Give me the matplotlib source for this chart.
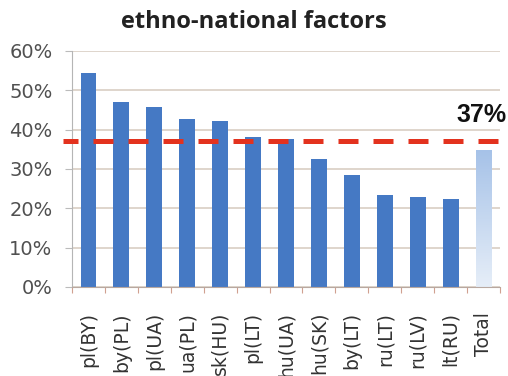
import numpy as np
import matplotlib
matplotlib.use("Agg")
import matplotlib.pyplot as plt
from matplotlib.colors import LinearSegmentedColormap

categories = ["pl(BY)", "by(PL)", "pl(UA)", "ua(PL)", "sk(HU)", "pl(LT)", "hu(UA)",
              "hu(SK)", "by(LT)", "ru(LT)", "ru(LV)", "lt(RU)", "Total"]
values = [54.5, 47.1, 45.8, 42.7, 42.1, 38.1, 37.6, 32.5, 28.5, 23.3, 23.0, 22.3, 34.7]
reference_value = 37
reference_label = "37%"
yticks = [0, 10, 20, 30, 40, 50, 60]
ytick_labels = ["0%", "10%", "20%", "30%", "40%", "50%", "60%"]
title = "ethno-national factors"

fig = plt.figure(figsize=(5.08, 3.76), dpi=100)
ax = fig.add_axes([72 / 508, 1 - 287 / 376, 428 / 508, 236 / 376])

x = np.arange(len(categories))
bar_w = 0.48
blue = "#4579c4"

# country bars
ax.bar(x[:-1], values[:-1], width=bar_w, color=blue, zorder=2)

# total bar with a vertical fade from light blue to near white
tx, tv = x[-1], values[-1]
cmap = LinearSegmentedColormap.from_list("fade", ["#e6eef8", "#a6c2e8"])
grad = np.linspace(0, 1, 256).reshape(-1, 1)
ax.imshow(grad, cmap=cmap, origin="lower", aspect="auto",
          extent=(tx - bar_w / 2, tx + bar_w / 2, 0, tv), zorder=2)

# reference line
ax.axhline(reference_value, color="#e3321e", lw=3.6, zorder=3,
           linestyle=(1.0, (4.0, 3.0)), dash_capstyle="butt",
           xmin=-0.021, clip_on=False)

ax.set_xlim(-0.5, len(categories) - 0.5)
ax.set_ylim(0, 60)
ax.set_yticks(yticks)
ax.set_yticklabels(ytick_labels)
ax.yaxis.grid(True, color="#d9cec4", lw=1.2, zorder=0)
ax.set_axisbelow(True)

ax.set_xticks(x)
ax.set_xticklabels(categories, rotation=90, va="top", ha="center")
ax.set_xticks(np.arange(-0.5, len(categories)), minor=True)
ax.tick_params(axis="x", which="major", length=0, pad=18, labelsize=13.5,
               labelcolor="#333333")
ax.tick_params(axis="x", which="minor", length=4, color="#d0a090", width=0.8)
ax.tick_params(axis="y", length=5, color="#bbbbbb", pad=9, labelsize=14,
               labelcolor="#505050")

for side in ["top", "right"]:
    ax.spines[side].set_visible(False)
ax.spines["left"].set_color("#b5b5b5")
ax.spines["bottom"].set_color("#b8a8a0")

fig.text(0.5, 1 - 22 / 376, title, ha="center", va="center",
         fontsize=17, fontweight="bold", family=["Open Sans", "DejaVu Sans"],
         color="#222222")
fig.text(507 / 508, 1 - 115 / 376, reference_label, ha="right", va="center",
         fontsize=18, fontweight="bold",
         family=["Liberation Sans Narrow", "Liberation Sans"], color="#111111")

fig.savefig("out.png", dpi=100)
